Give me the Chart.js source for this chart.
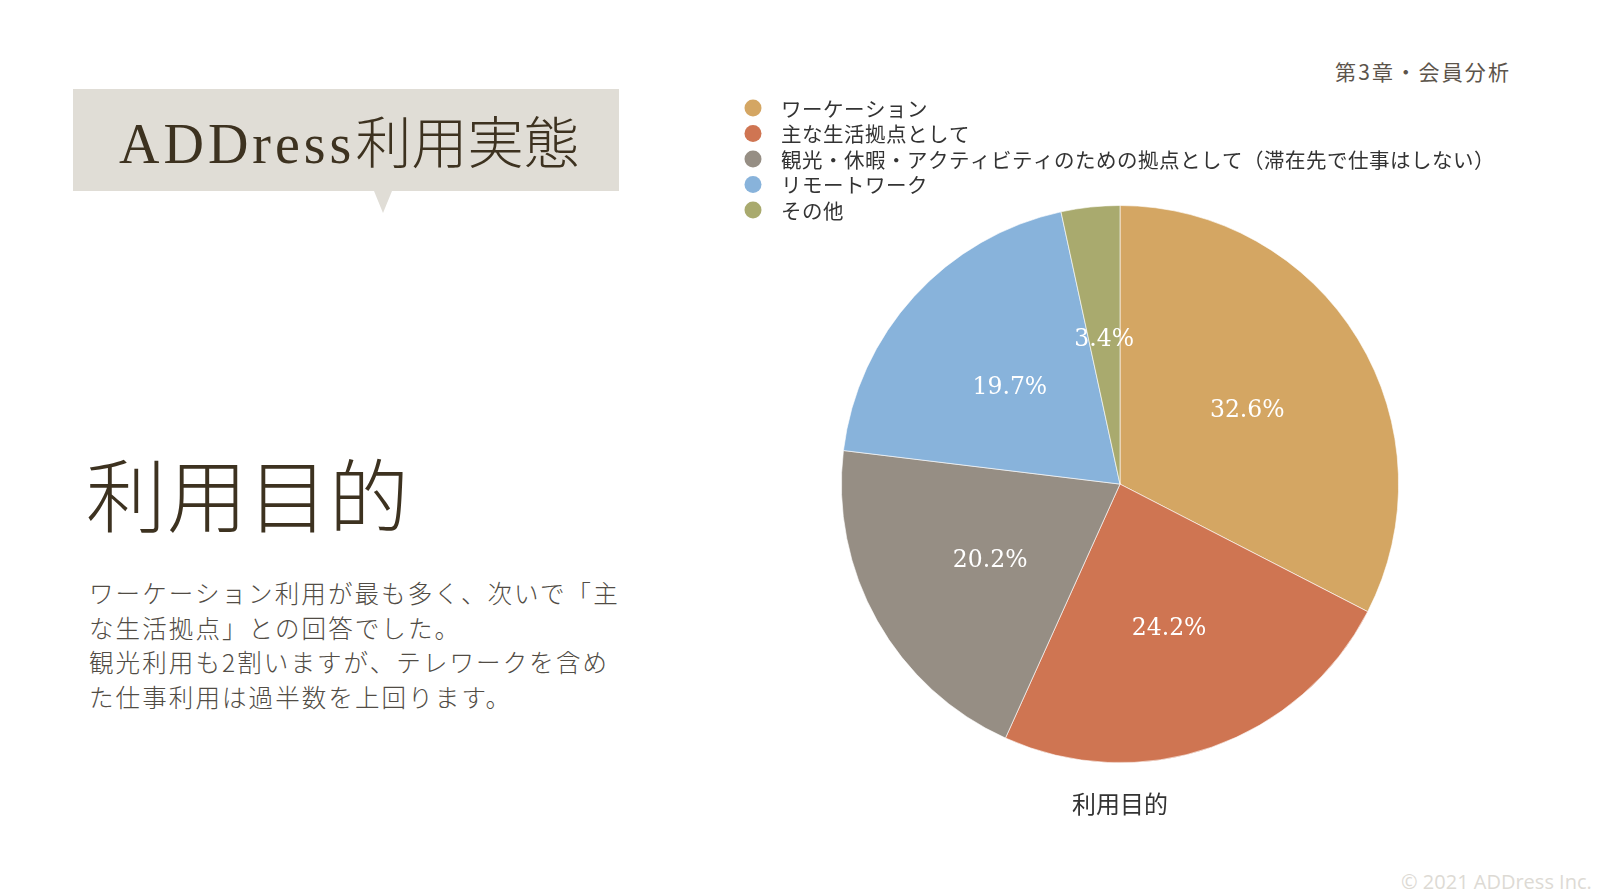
<!DOCTYPE html>
<html lang="ja">
<head>
<meta charset="utf-8">
<script src="https://cdn.jsdelivr.net/npm/chart.js@4.4.1/dist/chart.umd.min.js"></script>
<style>
  html, body { margin: 0; padding: 0; background: #ffffff; }
  body { width: 1600px; height: 894px; position: relative; overflow: hidden; font-family: "Noto Sans CJK JP", "Noto Sans", sans-serif; }
  .titlebox { position: absolute; left: 73px; top: 89px; width: 546px; height: 102px; background: #E0DDD6; }
  .titlebox::after { content: ""; position: absolute; left: 301px; top: 102px; border-left: 9px solid transparent; border-right: 9px solid transparent; border-top: 22px solid #E0DDD6; }
  .titlebox .t { position: absolute; left: 46px; top: 9px; font-size: 56px; color: #3D3220; white-space: nowrap; font-weight: 300; }
  .titlebox .lat { font-family: "Liberation Serif", serif; letter-spacing: 4px; font-weight: normal; }
  .heading { position: absolute; left: 86px; top: 433px; font-size: 80px; color: #3D3220; font-weight: 300; letter-spacing: 1px; }
  .body { position: absolute; left: 89px; top: 576px; font-size: 24.5px; line-height: 34.7px; color: #514C45; letter-spacing: 2.1px; font-weight: 300; white-space: nowrap; }
  .chapter { position: absolute; left: 1335px; top: 56px; font-size: 21px; color: #5C544B; letter-spacing: 2.2px; }
  .copy { position: absolute; left: 1401px; top: 868px; font-size: 20px; color: #DDDAD4; font-family: "Open Sans", "Noto Sans", sans-serif; }
  #wrap { position: absolute; left: 700px; top: 60px; width: 840px; height: 780px; }
</style>
</head>
<body>
<div class="titlebox"><span class="t"><span class="lat">ADDress</span>利用実態</span></div>
<div class="heading">利用目的</div>
<div class="body">ワーケーション利用が最も多く、次いで「主<br>な生活拠点」との回答でした。<br>観光利用も2割いますが、テレワークを含め<br>た仕事利用は過半数を上回ります。</div>
<div class="chapter">第3章・会員分析</div>
<div class="copy">© 2021 ADDress Inc.</div>
<div id="wrap"><canvas id="c" width="840" height="780"></canvas></div>
<script>
const categories = [
  "ワーケーション",
  "主な生活拠点として",
  "観光・休暇・アクティビティのための拠点として（滞在先で仕事はしない）",
  "リモートワーク",
  "その他"
];
const shares = [32.6, 24.2, 20.2, 19.7, 3.4];
const colors = ["#D4A663", "#CF7552", "#968E84", "#88B3DB", "#A9AA6E"];
const chartTitle = "利用目的";

const sideLegend = {
  id: "sideLegend",
  afterDraw(chart, args, opts) {
    const ctx = chart.ctx;
    const labels = chart.data.labels;
    const bg = chart.data.datasets[0].backgroundColor;
    ctx.save();
    ctx.font = opts.font;
    if ("letterSpacing" in ctx) ctx.letterSpacing = opts.spacing;
    ctx.textBaseline = "middle";
    ctx.textAlign = "left";
    labels.forEach((lab, i) => {
      const y = opts.y + i * opts.rowGap;
      ctx.beginPath();
      ctx.fillStyle = bg[i];
      ctx.arc(opts.x, y, opts.r, 0, Math.PI * 2);
      ctx.fill();
      ctx.fillStyle = opts.color;
      ctx.fillText(lab, opts.textX, y + 1);
    });
    ctx.restore();
  }
};

const sliceLabels = {
  id: "sliceLabels",
  afterDatasetsDraw(chart, args, opts) {
    const ctx = chart.ctx;
    const meta = chart.getDatasetMeta(0);
    const data = chart.data.datasets[0].data;
    ctx.save();
    ctx.font = opts.font;
    ctx.fillStyle = opts.color;
    ctx.textAlign = "center";
    ctx.textBaseline = "middle";
    meta.data.forEach((arc, i) => {
      const p = arc.getProps(["x", "y", "startAngle", "endAngle", "outerRadius"], true);
      const mid = (p.startAngle + p.endAngle) / 2;
      const r = p.outerRadius * opts.factor;
      ctx.fillText(data[i].toFixed(1) + "%", p.x + Math.cos(mid) * r, p.y + Math.sin(mid) * r + opts.dy);
    });
    ctx.restore();
  }
};

new Chart(document.getElementById("c"), {
  type: "pie",
  data: {
    labels: categories,
    datasets: [{
      data: shares,
      backgroundColor: colors,
      borderColor: "rgba(255,255,255,0.6)",
      borderWidth: 1
    }]
  },
  options: {
    responsive: false,
    animation: false,
    layout: { padding: { top: 145, bottom: 0, left: 0, right: 0 } },
    plugins: {
      legend: { display: false },
      tooltip: { enabled: false },
      title: {
        display: true,
        text: chartTitle,
        position: "bottom",
        color: "#333333",
        font: { family: "Noto Sans CJK JP", size: 24, weight: "normal" },
        padding: { top: 26, bottom: 22 }
      },
      sideLegend: { x: 53, y: 48, rowGap: 25.5, r: 8.5, textX: 81, font: "20.5px 'Noto Sans CJK JP'", spacing: "0.5px", color: "#333333" },
      sliceLabels: { factor: 0.535, dy: 4, font: "23.5px 'DejaVu Serif'", color: "#ffffff" }
    }
  },
  plugins: [sideLegend, sliceLabels]
});
</script>
</body>
</html>
